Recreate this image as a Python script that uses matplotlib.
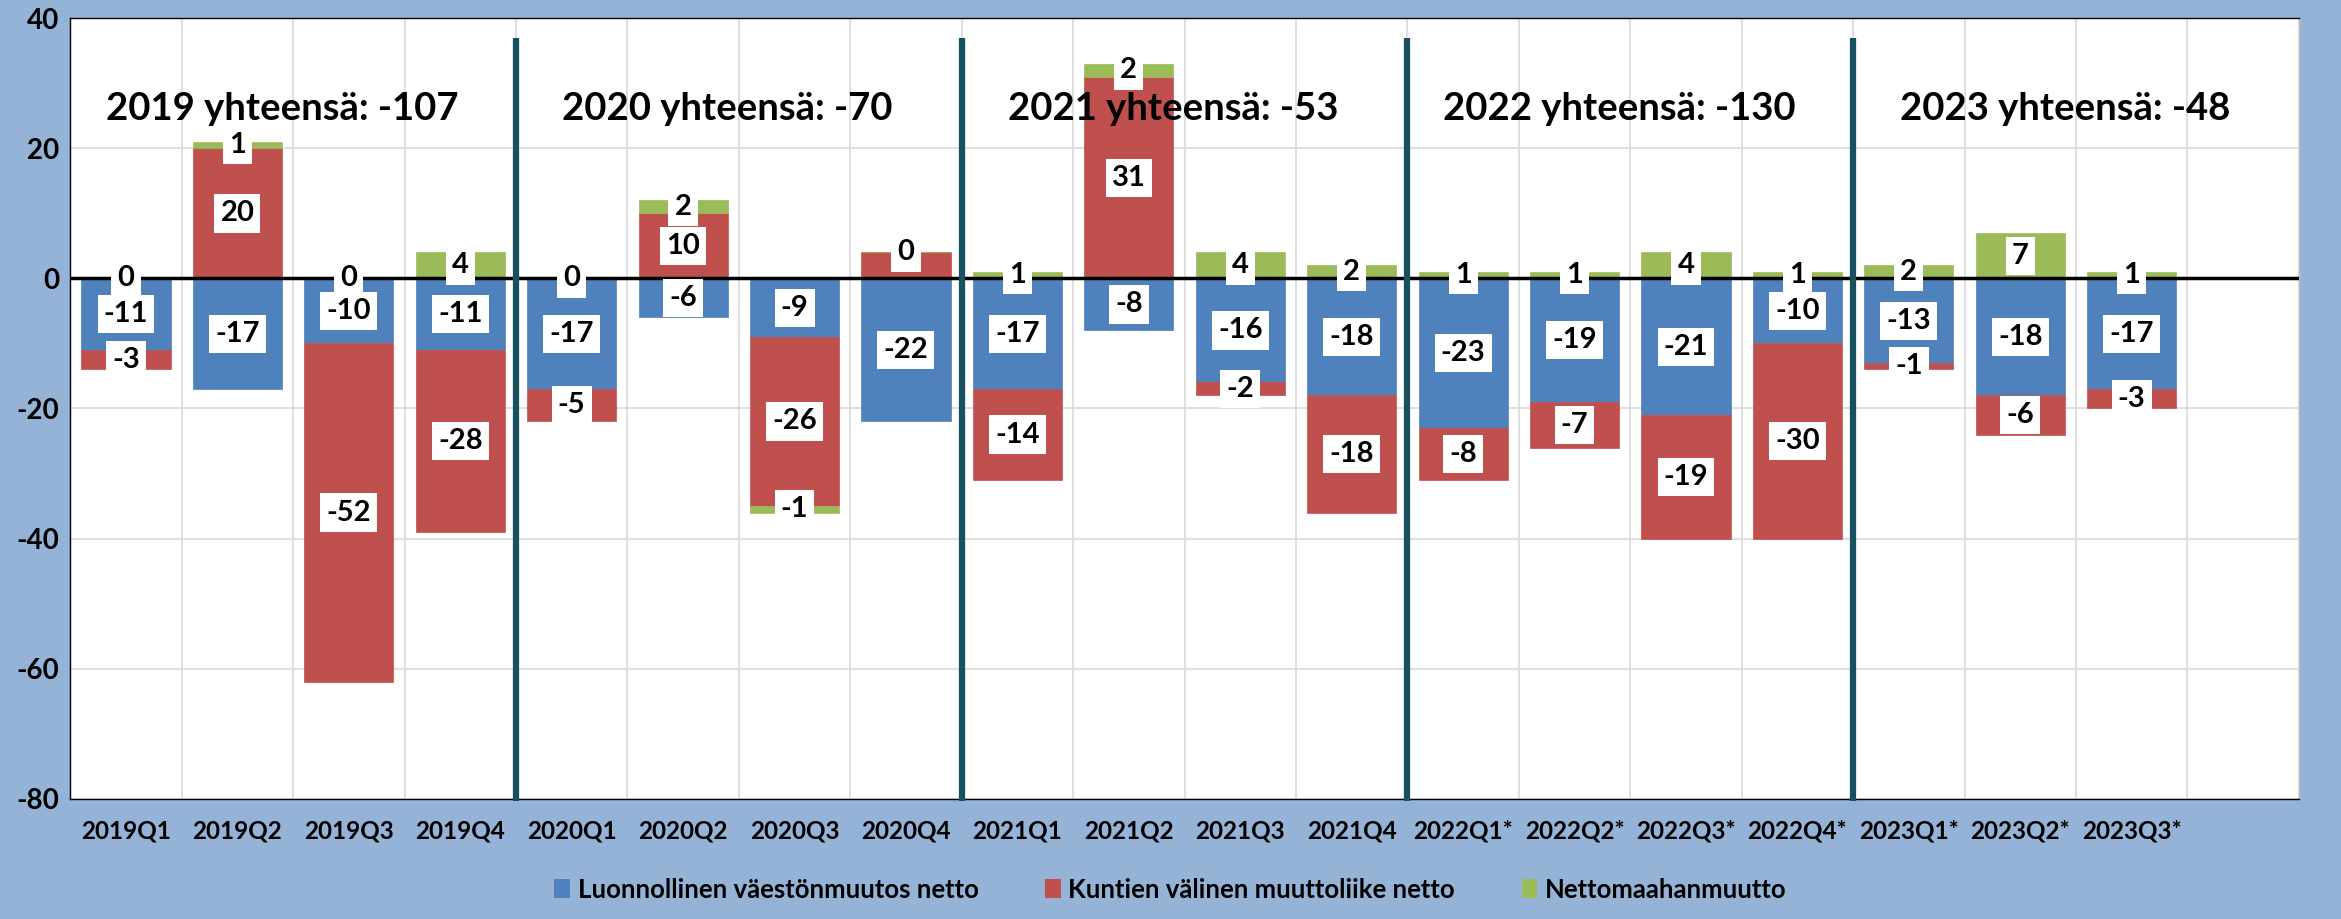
import matplotlib.pyplot as plt
from matplotlib.patches import Patch
import numpy as np

plt.rcParams['font.family'] = ['Lato', 'DejaVu Sans']
plt.rcParams['axes.unicode_minus'] = False

# Quarterly data (last slot is empty in the original chart)
quarters = ["2019Q1", "2019Q2", "2019Q3", "2019Q4",
            "2020Q1", "2020Q2", "2020Q3", "2020Q4",
            "2021Q1", "2021Q2", "2021Q3", "2021Q4",
            "2022Q1*", "2022Q2*", "2022Q3*", "2022Q4*",
            "2023Q1*", "2023Q2*", "2023Q3*", ""]
natural = [-11, -17, -10, -11, -17, -6, -9, -22, -17, -8, -16, -18,
           -23, -19, -21, -10, -13, -18, -17]
municipal = [-3, 20, -52, -28, -5, 10, -26, 4, -14, 31, -2, -18,
             -8, -7, -19, -30, -1, -6, -3]
immigration = [0, 1, 0, 4, 0, 2, -1, 0, 1, 2, 4, 2,
               1, 1, 4, 1, 2, 7, 1]
# red label for 2020Q4 is not shown in the original
municipal_label_shown = [True] * 7 + [False] + [True] * 11

years = ["2019", "2020", "2021", "2022", "2023"]
year_totals = [-107, -70, -53, -130, -48]

series = [("Luonnollinen väestönmuutos netto", natural, "#4F81BD"),
          ("Kuntien välinen muuttoliike netto", municipal, "#C0504D"),
          ("Nettomaahanmuutto", immigration, "#9BBB59")]

fig = plt.figure(figsize=(23.41, 9.19), dpi=100, facecolor="#95B3D7")
ax = fig.add_axes([0.030, 0.131, 0.952, 0.849])
ax.set_facecolor("white")

n = len(natural)
x = np.arange(n)
pos_base = np.zeros(n)
neg_base = np.zeros(n)

for name, vals, color in series:
    vals = np.array(vals, dtype=float)
    bottoms = np.where(vals >= 0, pos_base, neg_base)
    ax.bar(x, vals, bottom=bottoms, width=0.8, color=color, zorder=3,
           edgecolor=color, linewidth=0.5)
    for i in range(n):
        if name.startswith("Kuntien") and not municipal_label_shown[i]:
            continue
        ax.text(x[i], bottoms[i] + vals[i] / 2, f"{int(vals[i])}",
                ha="center", va="center", fontsize=21, fontweight="bold",
                zorder=6,
                bbox=dict(facecolor="white", edgecolor="none", pad=4.5))
    pos_base = pos_base + np.where(vals >= 0, vals, 0)
    neg_base = neg_base + np.where(vals < 0, vals, 0)

ax.axhline(0, color="black", linewidth=2.5, zorder=4)

# year separators and totals
for k, (yr, tot) in enumerate(zip(years, year_totals)):
    if k > 0:
        ax.plot([4 * k - 0.5, 4 * k - 0.5], [-80.4, 37], color="#17505F",
                linewidth=4.5, zorder=5, clip_on=False, solid_capstyle="butt")
    ax.text(4 * k + 1.4, 26, f"{yr} yhteensä: {tot}", ha="center",
            va="center", fontsize=27.5, fontweight="bold", zorder=7)

ax.set_xlim(-0.5, len(quarters) - 0.5)
ax.set_ylim(-80, 40)
ax.set_yticks(range(-80, 41, 20))
ax.set_xticks(range(len(quarters)))
ax.set_xticklabels(quarters)
ax.set_xticks(np.arange(-0.5, len(quarters), 1), minor=True)
ax.grid(True, which="minor", axis="x", color="#D9D9D9", linewidth=1.2, zorder=0)
ax.grid(True, which="major", axis="y", color="#D9D9D9", linewidth=1.2, zorder=0)
ax.tick_params(axis="both", which="both", length=0)
ax.tick_params(axis="x", pad=15, labelsize=17.5)
ax.tick_params(axis="y", pad=8, labelsize=20)
for lab in ax.get_xticklabels() + ax.get_yticklabels():
    lab.set_fontweight("bold")
for sp in ax.spines.values():
    sp.set_color("black")
    sp.set_linewidth(1)
ax.spines["right"].set_color("#BFBFBF")

handles = [Patch(facecolor=c, label=nm) for nm, _, c in series]
fig.legend(handles=handles, loc="center", bbox_to_anchor=(0.5, 0.032), ncol=3,
           frameon=False, prop=dict(size=18.5, weight="bold"),
           handlelength=0.6, handleheight=0.8, handletextpad=0.3,
           columnspacing=2.6)

plt.savefig("out.png", dpi=100, facecolor=fig.get_facecolor())
